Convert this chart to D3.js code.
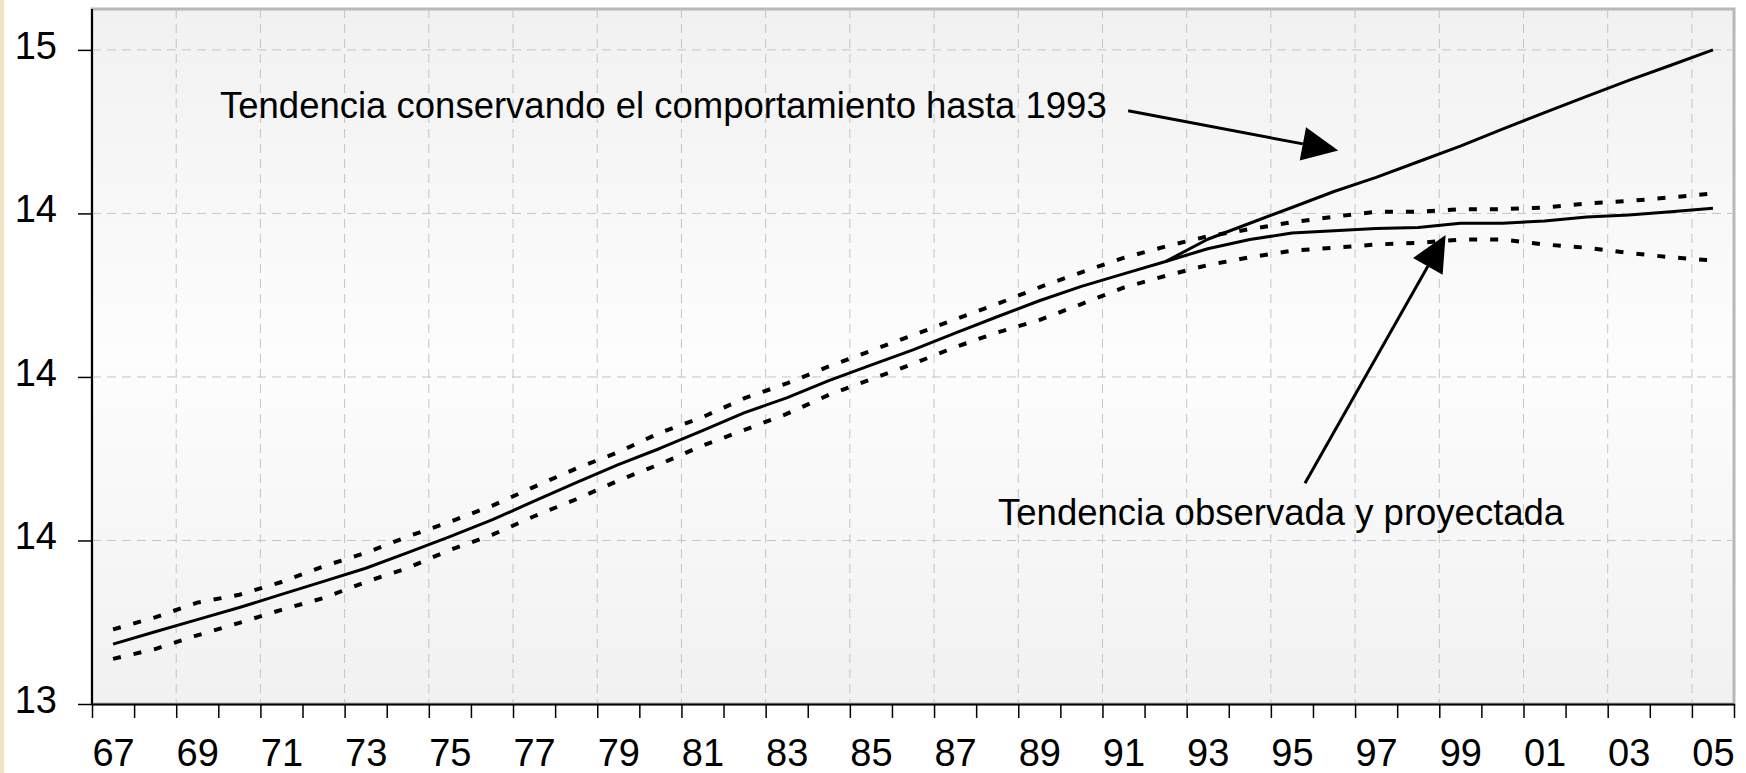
<!DOCTYPE html>
<html>
<head>
<meta charset="utf-8">
<script src="https://cdn.jsdelivr.net/npm/d3@7"></script>
<style>
  body { margin: 0; background: #fff; }
  text { font-family: "Liberation Sans", Arial, sans-serif; fill: #000; }
</style>
</head>
<body>
<svg width="1746" height="773"></svg>
<script>
// years 1967..2005 shown as two digits
var years = ["67","68","69","70","71","72","73","74","75","76","77","78","79","80",
             "81","82","83","84","85","86","87","88","89","90","91","92","93","94",
             "95","96","97","98","99","00","01","02","03","04","05"];

var observed = [13.183, 13.221, 13.258, 13.295, 13.335, 13.375, 13.415, 13.463, 13.512, 13.563,
                13.62, 13.677, 13.732, 13.782, 13.836, 13.891, 13.936, 13.989, 14.036, 14.083,
                14.134, 14.184, 14.233, 14.277, 14.315, 14.353, 14.392, 14.42, 14.44, 14.447,
                14.454, 14.457, 14.47, 14.47, 14.477, 14.489, 14.495, 14.505, 14.516];

var projected = [null, null, null, null, null, null, null, null, null, null,
                 null, null, null, null, null, null, null, null, null, null,
                 null, null, null, null, null, 14.353, 14.421, 14.47, 14.518, 14.567,
                 14.61, 14.658, 14.706, 14.758, 14.808, 14.858, 14.907, 14.953, 15.0];

var upper = [13.228, 13.265, 13.31, 13.334, 13.373, 13.421, 13.462, 13.512, 13.557, 13.606,
             13.664, 13.72, 13.77, 13.83, 13.877, 13.935, 13.98, 14.032, 14.08, 14.128,
             14.176, 14.223, 14.274, 14.32, 14.364, 14.399, 14.43, 14.452, 14.473, 14.49,
             14.505, 14.505, 14.513, 14.513, 14.518, 14.53, 14.538, 14.549, 14.561];

var lower = [13.138, 13.168, 13.21, 13.248, 13.288, 13.324, 13.373, 13.416, 13.471, 13.517,
             13.574, 13.626, 13.683, 13.734, 13.79, 13.838, 13.887, 13.945, 13.993, 14.04,
             14.091, 14.136, 14.174, 14.223, 14.273, 14.309, 14.342, 14.366, 14.386, 14.395,
             14.405, 14.41, 14.42, 14.42, 14.405, 14.395, 14.379, 14.366, 14.356];

var yTicks = [13, 13.5, 14, 14.5, 15];
var yLabels = ["13", "14", "14", "14", "15"];

// annotations: text start / arrow start / arrow tip in (category position, value)
var notes = [
  {text: "Tendencia conservando el comportamiento hasta 1993", tx: 3.04, ty: 14.792,
   from: [24.61, 14.814], to: [29.6, 14.692]},
  {text: "Tendencia observada y proyectada", tx: 21.52, ty: 13.547,
   from: [28.81, 13.675], to: [32.15, 14.434]}
];

var svg = d3.select("svg"),
    margin = {top: 9, right: 12, bottom: 69, left: 92},
    width = +svg.attr("width") - margin.left - margin.right,
    height = +svg.attr("height") - margin.top - margin.bottom;

// little beige strip at the left edge
svg.append("rect").attr("x", 0).attr("y", 0).attr("width", 4).attr("height", 773).attr("fill", "#efe4c6");

var grad = svg.append("defs").append("linearGradient")
    .attr("id", "bg").attr("x1", 0).attr("y1", 0).attr("x2", 0).attr("y2", 1);
grad.append("stop").attr("offset", "0%").attr("stop-color", "#f1f1f1");
grad.append("stop").attr("offset", "50%").attr("stop-color", "#fdfdfd");
grad.append("stop").attr("offset", "100%").attr("stop-color", "#f1f1f1");

var g = svg.append("g").attr("transform", "translate(" + margin.left + "," + margin.top + ")");

var x = d3.scaleLinear().domain([0, years.length]).range([0, width]);
var y = d3.scaleLinear().domain([13, 15.125]).range([height, 0]);

g.append("rect").attr("width", width).attr("height", height)
 .attr("fill", "url(#bg)").attr("stroke", "#b8b8b8").attr("stroke-width", 3);

// grid
g.append("g").selectAll("line")
 .data(yTicks.slice(1))
 .enter().append("line")
 .attr("x1", 0).attr("x2", width)
 .attr("y1", function(d) { return y(d); }).attr("y2", function(d) { return y(d); })
 .attr("stroke", "#c4c4c4").attr("stroke-dasharray", "9,6");

g.append("g").selectAll("line")
 .data(d3.range(2, years.length, 2))
 .enter().append("line")
 .attr("x1", function(d) { return x(d); }).attr("x2", function(d) { return x(d); })
 .attr("y1", 0).attr("y2", height)
 .attr("stroke", "#c4c4c4").attr("stroke-dasharray", "9,6");

// axes
var xTicks = g.append("g")
 .attr("transform", "translate(0," + height + ")")
 .call(d3.axisBottom(x).tickValues(d3.range(0, years.length + 1)).tickSize(14).tickSizeOuter(0).tickFormat(""));
xTicks.selectAll("line").attr("stroke-width", 1.5);
xTicks.select(".domain").attr("stroke-width", 2);

var xLab = g.append("g")
 .attr("transform", "translate(0," + height + ")")
 .call(d3.axisBottom(x).tickValues(d3.range(0, years.length, 2).map(function(i) { return i + 0.5; }))
   .tickSize(0).tickPadding(35).tickFormat(function(d) { return years[Math.floor(d)]; }));
xLab.select(".domain").remove();
xLab.selectAll("text").attr("font-size", 38).attr("font-family", "Liberation Sans, Arial, sans-serif");

var yAx = g.append("g")
 .call(d3.axisLeft(y).tickValues(yTicks).tickSize(14).tickSizeOuter(0).tickPadding(21)
   .tickFormat(function(d, i) { return yLabels[i]; }));
yAx.select(".domain").attr("stroke-width", 2).attr("d", "M0," + height + "V0");
yAx.selectAll("line").attr("stroke-width", 1.5);
yAx.selectAll("text").attr("font-size", 38).attr("dy", "0.22em")
   .attr("font-family", "Liberation Sans, Arial, sans-serif");

// series
function lineOf(arr) {
  return d3.line()
    .defined(function(d) { return d != null; })
    .x(function(d, i) { return x(i + 0.5); })
    .y(function(d) { return y(d); })(arr);
}

[upper, lower].forEach(function(s) {
  g.append("path").attr("d", lineOf(s)).attr("fill", "none")
   .attr("stroke", "#000").attr("stroke-width", 4).attr("stroke-dasharray", "8,13");
});

[projected, observed].forEach(function(s) {
  g.append("path").attr("d", lineOf(s)).attr("fill", "none")
   .attr("stroke", "#000").attr("stroke-width", 3).attr("stroke-linejoin", "round");
});

// annotations with arrows
notes.forEach(function(n) {
  g.append("text").attr("x", x(n.tx)).attr("y", y(n.ty))
   .attr("font-size", 36.5).text(n.text);
  var x0 = x(n.from[0]), y0 = y(n.from[1]), x1 = x(n.to[0]), y1 = y(n.to[1]);
  var len = Math.sqrt((x1 - x0) * (x1 - x0) + (y1 - y0) * (y1 - y0));
  var ux = (x1 - x0) / len, uy = (y1 - y0) / len;
  var bx = x1 - 36 * ux, by = y1 - 36 * uy;
  g.append("line").attr("x1", x0).attr("y1", y0).attr("x2", bx).attr("y2", by)
   .attr("stroke", "#000").attr("stroke-width", 3);
  g.append("path")
   .attr("d", "M" + x1 + "," + y1 + "L" + (bx - 17 * uy) + "," + (by + 17 * ux) +
              "L" + (bx + 17 * uy) + "," + (by - 17 * ux) + "Z")
   .attr("fill", "#000");
});
</script>
</body>
</html>
